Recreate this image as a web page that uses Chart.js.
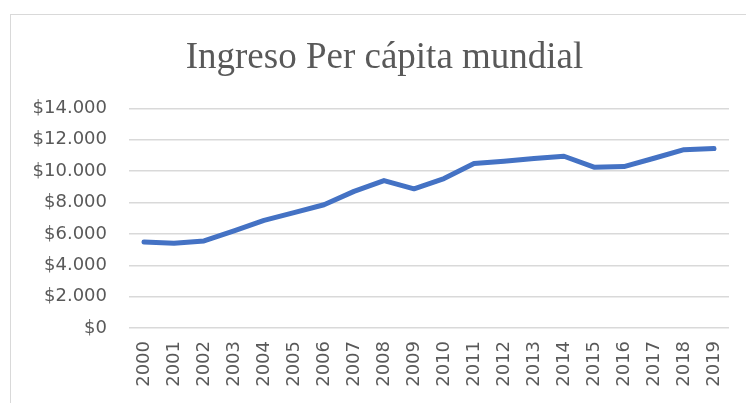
<!DOCTYPE html>
<html>
<head>
<meta charset="utf-8">
<script src="https://cdn.jsdelivr.net/npm/chart.js@4/dist/chart.umd.min.js"></script>
<style>
  html, body { margin: 0; padding: 0; background: #ffffff; overflow: hidden; width: 746px; height: 403px; }
  #box { position: absolute; left: 10px; top: 14px; width: 747px; height: 400px; border: 1px solid #d9d9d9; background: #fff; }
  #wrap { position: absolute; left: 0; top: 0; width: 747px; height: 388px; }
</style>
</head>
<body>
<div id="box"><div id="wrap"><canvas id="c"></canvas></div></div>
<script>
const titleText = "Ingreso Per cápita mundial";
const years = ["2000","2001","2002","2003","2004","2005","2006","2007","2008","2009",
               "2010","2011","2012","2013","2014","2015","2016","2017","2018","2019"];
const income = [5490, 5400, 5550, 6190, 6860, 7360, 7860, 8710, 9400, 8870,
                9530, 10480, 10630, 10800, 10950, 10250, 10290, 10820, 11370, 11440];
const yMin = 0, yMax = 14000, yStep = 2000;

function fmt(v) {
  return '$' + String(v).replace(/\B(?=(\d{3})+(?!\d))/g, '.');
}

new Chart(document.getElementById('c'), {
  type: 'line',
  data: {
    labels: years,
    datasets: [{
      data: income,
      borderColor: '#4472C4',
      borderWidth: 5,
      pointRadius: 0,
      pointHoverRadius: 0,
      tension: 0,
      fill: false,
      borderCapStyle: 'round',
      borderJoinStyle: 'round',
      yAxisID: 'y'
    }]
  },
  options: {
    responsive: true,
    maintainAspectRatio: false,
    animation: false,
    layout: { padding: 0 },
    plugins: {
      legend: { display: false },
      tooltip: { enabled: false },
      title: {
        display: true,
        text: titleText,
        color: '#595959',
        font: { family: '"Liberation Serif", "Times New Roman", serif', size: 37, weight: 'normal' },
        padding: { top: 21, bottom: 28 }
      }
    },
    scales: {
      x: {
        offset: true,
        grid: { display: false, drawTicks: false, offset: true },
        border: { display: false },
        ticks: {
          color: '#595959',
          font: { family: '"DejaVu Sans", sans-serif', size: 18 },
          minRotation: 90,
          maxRotation: 90,
          padding: 13,
          autoSkip: false
        },
        afterFit: (s) => { s.height = 75; }
      },
      y: {
        min: yMin,
        max: yMax,
        grid: { color: '#d9d9d9', lineWidth: 1.5, drawTicks: false },
        border: { display: false },
        ticks: {
          stepSize: yStep,
          color: '#595959',
          font: { family: '"DejaVu Sans", sans-serif', size: 18 },
          padding: 22,
          callback: (v) => fmt(v)
        },
        afterFit: (s) => { s.width = 118; }
      },
      yRight: {
        position: 'right',
        min: yMin,
        max: yMax,
        grid: { display: false, drawTicks: false },
        border: { display: false },
        ticks: { display: false },
        afterFit: (s) => { s.width = 29; }
      }
    }
  }
});
</script>
</body>
</html>
